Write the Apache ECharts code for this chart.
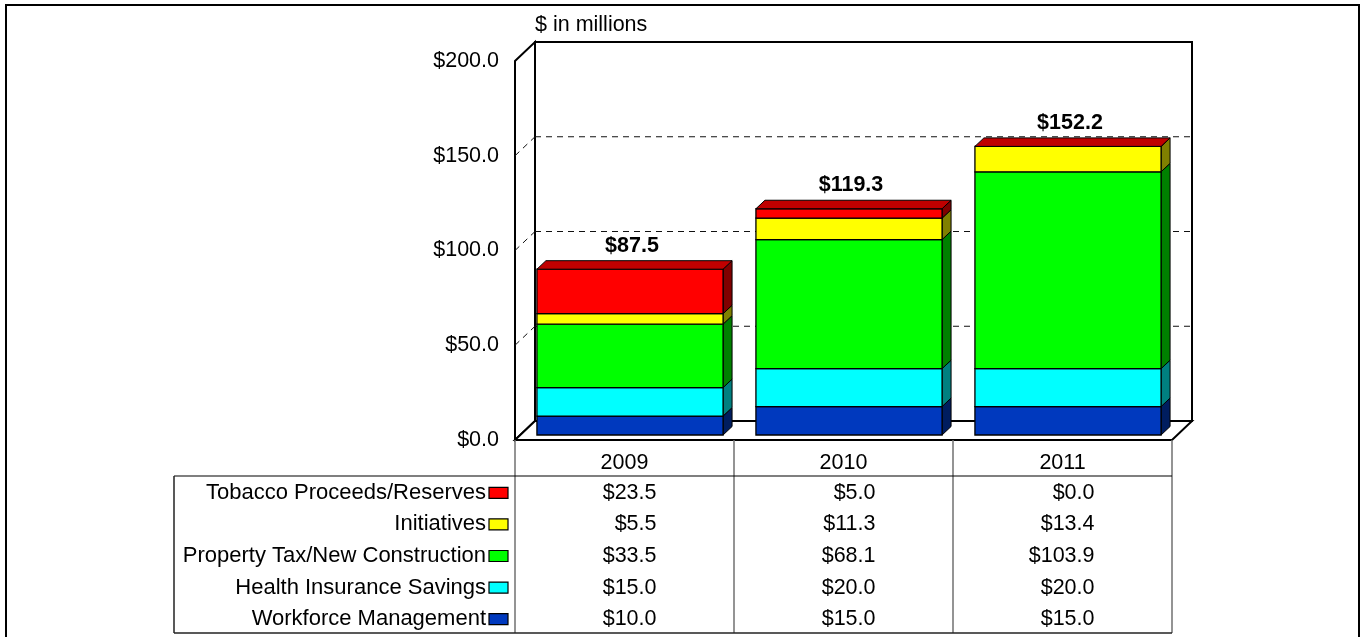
<!DOCTYPE html>
<html>
<head>
<meta charset="utf-8">
<script src="https://cdn.jsdelivr.net/npm/echarts@6/dist/echarts.min.js"></script>
<style>
html,body{margin:0;padding:0;background:#fff;}
#c{width:1360px;height:637px;}
</style>
</head>
<body>
<div id="c"></div>
<script>
// ---------- data ----------
const years = ['2009', '2010', '2011'];
const seriesNames = ['Workforce Management', 'Health Insurance Savings', 'Property Tax/New Construction', 'Initiatives', 'Tobacco Proceeds/Reserves'];
const workforce = [10.0, 15.0, 15.0];
const health = [15.0, 20.0, 20.0];
const property = [33.5, 68.1, 103.9];
const initiatives = [5.5, 11.3, 13.4];
const tobacco = [23.5, 5.0, 0.0];
const totals = [87.5, 119.3, 152.2];
const yTicks = [0, 50, 100, 150, 200];
const unitLabel = '$ in millions';

// ---------- styles ----------
const values = [workforce, health, property, initiatives, tobacco];
const frontColors = ['#0039BE', '#00FFFF', '#00FF00', '#FFFF00', '#FF0000'];
const sideColors = ['#001D5F', '#008080', '#008000', '#808000', '#800000'];
const topColors = ['#002B8F', '#00BFBF', '#00BF00', '#BFBF00', '#C00000'];
const FONT = '"Liberation Sans", Arial, Helvetica, sans-serif';
const FS = 21.5;
const FS_LEG = 22;
const WALL_DX = 20, WALL_DY = -19;
const BAR_FX = 5.5, BAR_FY = -5, BAR_DX = 9, BAR_DY = -8.5, BAR_FRAC = 0.85;
const fmt = v => '$' + v.toFixed(1);

const chart = echarts.init(document.getElementById('c'), null, {renderer: 'canvas'});

// cumulative bases
const bases = [];
let run = years.map(() => 0);
values.forEach(arr => {
  bases.push(run.slice());
  run = run.map((b, i) => b + arr[i]);
});

function wallRenderer(params, api) {
  const cs = params.coordSys;
  const L = cs.x, R = cs.x + cs.width, T = cs.y, B = cs.y + cs.height;
  const ch = [];
  const solid = {fill: '#fff', stroke: '#000', lineWidth: 2};
  ch.push({type: 'polygon', shape: {points: [[L + WALL_DX, T + WALL_DY], [R + WALL_DX, T + WALL_DY], [R + WALL_DX, B + WALL_DY], [L + WALL_DX, B + WALL_DY]]}, style: solid});
  ch.push({type: 'polygon', shape: {points: [[L, T], [L + WALL_DX, T + WALL_DY], [L + WALL_DX, B + WALL_DY], [L, B]]}, style: solid});
  ch.push({type: 'polygon', shape: {points: [[L, B], [L + WALL_DX, B + WALL_DY], [R + WALL_DX, B + WALL_DY], [R, B]]}, style: solid});
  yTicks.slice(1, -1).forEach(v => {
    const y = api.coord([0, v])[1];
    const ds = {stroke: '#111', lineWidth: 1, lineDash: [6, 5]};
    ch.push({type: 'line', shape: {x1: L, y1: y, x2: L + WALL_DX, y2: y + WALL_DY}, style: ds});
    ch.push({type: 'line', shape: {x1: L + WALL_DX, y1: y + WALL_DY, x2: R + WALL_DX, y2: y + WALL_DY}, style: ds});
  });
  return {type: 'group', children: ch};
}

function makeBarRenderer(k, isTop) {
  return function (params, api) {
    const cat = api.value(0), base = api.value(1), val = api.value(2);
    const p0 = api.coord([cat, base]);
    const p1 = api.coord([cat, base + val]);
    const bw = api.size([1, 0])[0] * BAR_FRAC;
    const x0 = p0[0] - bw / 2 + BAR_FX, x1 = x0 + bw;
    const yb = p0[1] + BAR_FY, yt = p1[1] + BAR_FY;
    const ch = [];
    ch.push({type: 'polygon', shape: {points: [[x1, yt], [x1 + BAR_DX, yt + BAR_DY], [x1 + BAR_DX, yb + BAR_DY], [x1, yb]]},
      style: {fill: sideColors[k], stroke: '#000', lineWidth: 1}});
    ch.push({type: 'rect', shape: {x: x0, y: yt, width: bw, height: yb - yt},
      style: {fill: frontColors[k], stroke: '#000', lineWidth: 1.3}});
    if (isTop) {
      ch.push({type: 'polygon', shape: {points: [[x0, yt], [x0 + BAR_DX, yt + BAR_DY], [x1 + BAR_DX, yt + BAR_DY], [x1, yt]]},
        style: {fill: topColors[k], stroke: '#000', lineWidth: 1}});
    }
    return {type: 'group', children: ch};
  };
}

function totalRenderer(params, api) {
  const cat = api.value(0), t = api.value(1);
  const p = api.coord([cat, t]);
  return {type: 'text', x: p[0] + BAR_FX + 2, y: p[1] + BAR_FY + BAR_DY - 4,
    style: {text: fmt(t), font: 'bold ' + FS + 'px ' + FONT, fill: '#000', align: 'center', verticalAlign: 'bottom'}};
}

const series = [{
  type: 'custom', name: 'walls', coordinateSystem: 'cartesian2d', clip: false, z: 1,
  silent: true, data: [[0, 0]], renderItem: wallRenderer
}];
values.forEach((arr, k) => {
  series.push({
    type: 'custom', name: seriesNames[k], coordinateSystem: 'cartesian2d', clip: false, z: 3,
    data: arr.map((v, i) => [i, bases[k][i], v]),
    encode: {x: 0, y: [1, 2]},
    renderItem: makeBarRenderer(k, k === values.length - 1)
  });
});
series.push({
  type: 'custom', name: 'totals', coordinateSystem: 'cartesian2d', clip: false, z: 5,
  data: totals.map((t, i) => [i, t]), renderItem: totalRenderer
});

chart.setOption({
  animation: false,
  backgroundColor: '#fff',
  grid: {left: 515, right: 188, top: 61, bottom: 197, containLabel: false},
  xAxis: {type: 'category', data: years, axisLine: {show: false}, axisTick: {show: false}, axisLabel: {show: false}, splitLine: {show: false}},
  yAxis: {type: 'value', min: yTicks[0], max: yTicks[yTicks.length - 1], interval: 50,
    axisLine: {show: false}, axisTick: {show: false}, splitLine: {show: false},
    axisLabel: {formatter: v => fmt(v), fontSize: FS, fontFamily: FONT, color: '#000', margin: 16}},
  series: series
});

// ---------- data table & frame ----------
const cx = years.map((_, i) => chart.convertToPixel({xAxisIndex: 0}, i));
const band = cx[1] - cx[0];
const tableTop = chart.convertToPixel({yAxisIndex: 0}, 0);
const colLeft = cx[0] - band / 2, colRight = cx[cx.length - 1] + band / 2;
const headerH = 36, rowH = 31.6, boxLeft = 174;
const tableBottom = tableTop + headerH + rowH * seriesNames.length - 1;
const g = [];
const lineStyle = (c, w) => ({stroke: c, lineWidth: w});
// outer frame
g.push({type: 'line', shape: {x1: 5, y1: 5, x2: 1360, y2: 5}, style: lineStyle('#000', 2), z: 10});
g.push({type: 'line', shape: {x1: 6, y1: 5, x2: 6, y2: 637}, style: lineStyle('#000', 2), z: 10});
g.push({type: 'line', shape: {x1: 1359, y1: 5, x2: 1359, y2: 637}, style: lineStyle('#000', 2), z: 10});
// unit label
g.push({type: 'text', x: colLeft + WALL_DX, y: 25, style: {text: unitLabel, font: FS + 'px ' + FONT, fill: '#000', verticalAlign: 'middle'}, z: 10});
// table lines
for (let i = 0; i <= years.length; i++) {
  const x = colLeft + band * i;
  g.push({type: 'line', shape: {x1: x, y1: tableTop, x2: x, y2: tableBottom}, style: lineStyle('#707070', 1.5), z: 10});
}
g.push({type: 'line', shape: {x1: boxLeft, y1: tableTop + headerH, x2: colRight, y2: tableTop + headerH}, style: lineStyle('#000', 1.2), z: 10});
g.push({type: 'line', shape: {x1: boxLeft, y1: tableBottom, x2: colRight, y2: tableBottom}, style: lineStyle('#222', 1.5), z: 10});
g.push({type: 'line', shape: {x1: boxLeft, y1: tableTop + headerH, x2: boxLeft, y2: tableBottom}, style: lineStyle('#222', 1.5), z: 10});
// header
years.forEach((y, i) => {
  g.push({type: 'text', x: cx[i], y: tableTop + headerH / 2 + 5, style: {text: y, font: FS + 'px ' + FONT, fill: '#000', align: 'center', verticalAlign: 'middle'}, z: 10});
});
// rows (top row = last series)
for (let r = 0; r < seriesNames.length; r++) {
  const k = seriesNames.length - 1 - r;
  const yc = tableTop + headerH + rowH * r + rowH / 2 + 1;
  g.push({type: 'text', x: colLeft - 29, y: yc, style: {text: seriesNames[k], font: FS_LEG + 'px ' + FONT, fill: '#000', align: 'right', verticalAlign: 'middle'}, z: 10});
  g.push({type: 'rect', shape: {x: colLeft - 26, y: yc - 5.5, width: 19, height: 11}, style: {fill: frontColors[k], stroke: '#000', lineWidth: 1.2}, z: 10});
  years.forEach((_, i) => {
    g.push({type: 'text', x: cx[i] + 32, y: yc, style: {text: fmt(values[k][i]), font: FS + 'px ' + FONT, fill: '#000', align: 'right', verticalAlign: 'middle'}, z: 10});
  });
}
chart.setOption({graphic: g});
</script>
</body>
</html>
